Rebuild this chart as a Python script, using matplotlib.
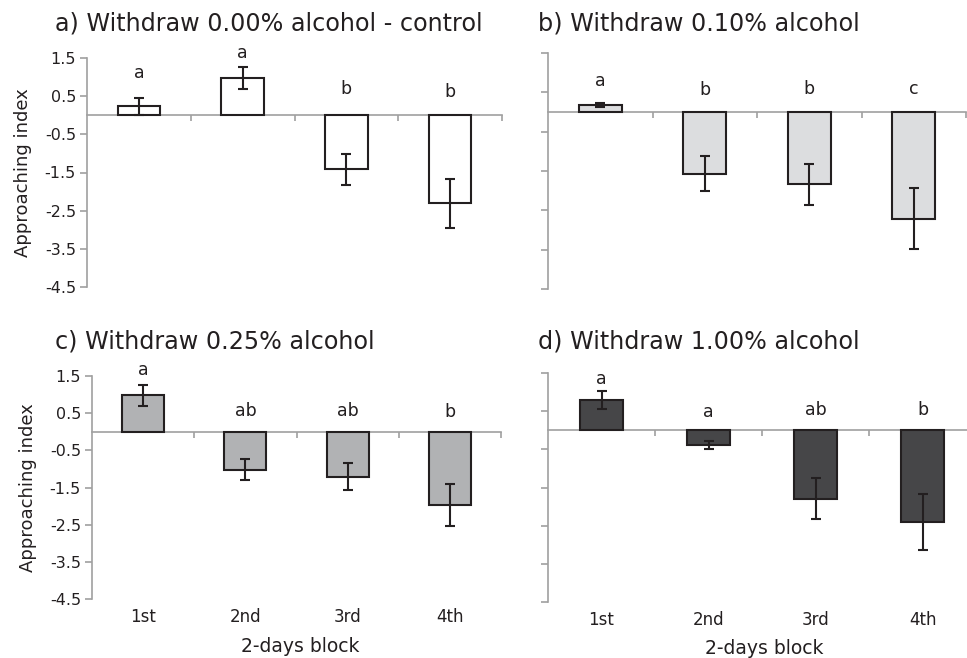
import matplotlib
matplotlib.use("Agg")
import matplotlib.pyplot as plt
import matplotlib.transforms as mtransforms

# the reference text is a bit wide, DejaVu Sans fits its extent best
plt.rcParams['font.family'] = ['DejaVu Sans']

blocks = ['1st', '2nd', '3rd', '4th']
titles = ['a) Withdraw 0.00% alcohol - control', 'b) Withdraw 0.10% alcohol',
          'c) Withdraw 0.25% alcohol', 'd) Withdraw 1.00% alcohol']

means_a = [0.23, 0.98, -1.42, -2.31]
err_a = [0.23, 0.28, 0.40, 0.65]
letters_a = ['a', 'a', 'b', 'b']
letter_y_a = [1.11, 1.62, 0.68, 0.62]

means_b = [0.18, -1.57, -1.84, -2.71]
err_b = [0.05, 0.45, 0.53, 0.78]
letters_b = ['a', 'b', 'b', 'c']
letter_y_b = [0.80, 0.57, 0.59, 0.59]

means_c = [0.98, -1.02, -1.21, -1.97]
err_c = [0.29, 0.29, 0.36, 0.57]
letters_c = ['a', 'ab', 'ab', 'b']
letter_y_c = [1.67, 0.57, 0.57, 0.53]

means_d = [0.80, -0.39, -1.79, -2.41]
err_d = [0.24, 0.11, 0.54, 0.73]
letters_d = ['a', 'a', 'ab', 'b']
letter_y_d = [1.34, 0.48, 0.54, 0.54]

colors = ['#ffffff', '#dcdddf', '#b1b2b4', '#464648']
yticks = [1.5, 0.5, -0.5, -1.5, -2.5, -3.5, -4.5]

W, H = 967, 658
# axes boxes in pixels: left, right, top, bottom
boxes = [(87, 502, 58, 287), (548, 966, 53, 289),
         (92, 501, 376, 599), (548, 976, 373, 602)]
title_pos = [(55, 24), (538, 23), (55, 342), (538, 342)]

fig = plt.figure(figsize=(W / 100, H / 100), dpi=100)

panels = [(means_a, err_a, letters_a, letter_y_a),
          (means_b, err_b, letters_b, letter_y_b),
          (means_c, err_c, letters_c, letter_y_c),
          (means_d, err_d, letters_d, letter_y_d)]

axis_col = '#a0a0a0'
edge_col = '#231f20'

for i, (m, e, let, ly) in enumerate(panels):
    l, r, t, b = boxes[i]
    ax = fig.add_axes([l / W, 1 - b / H, (r - l) / W, (b - t) / H])
    ax.patch.set_alpha(0)
    x = [k + 0.5 for k in range(len(blocks))]
    ax.bar(x, m, width=0.41, color=colors[i], edgecolor=edge_col, linewidth=1.5, zorder=2)
    ax.errorbar(x, m, yerr=e, fmt='none', ecolor=edge_col, elinewidth=1.5,
                capsize=3.8, capthick=1.5, zorder=3)
    for xx, s, yy in zip(x, let, ly):
        ax.text(xx, yy, s, ha='center', va='center', fontsize=12.5, color=edge_col)
    ax.set_xlim(0, 4)
    ax.set_ylim(-4.5, 1.5)
    for sp in ['top', 'right']:
        ax.spines[sp].set_visible(False)
    ax.spines['bottom'].set_position(('data', 0))
    for sp in ['bottom', 'left']:
        ax.spines[sp].set_color(axis_col)
        ax.spines[sp].set_linewidth(1.2)
    ax.spines['bottom'].set_zorder(1)
    ax.set_xticks([1, 2, 3, 4])
    ax.set_xticklabels([])
    ax.tick_params(axis='x', direction='out', length=4, width=1.2, color=axis_col)
    ax.set_yticks(yticks)
    ax.tick_params(axis='y', direction='out', length=5, width=1.2, color=axis_col,
                   labelsize=11.5, labelcolor=edge_col, pad=3)
    if i % 2 == 1:
        ax.set_yticklabels([])
    else:
        ax.set_yticklabels([str(v) for v in yticks])
        ax.set_ylabel('Approaching index', fontsize=13, color=edge_col, labelpad=9)
    if i >= 2:
        trans = mtransforms.blended_transform_factory(ax.transData, ax.transAxes)
        for xx, s in zip(x, blocks):
            ax.text(xx, -18 / (b - t), s, transform=trans, ha='center', va='center',
                    fontsize=12, color=edge_col)
        ax.text(0.51 if i == 2 else 0.505, -47 / (b - t), '2-days block', transform=ax.transAxes,
                ha='center', va='center', fontsize=13.5, color=edge_col)
    tx, ty = title_pos[i]
    fig.text(tx / W, 1 - ty / H, titles[i], ha='left', va='center', fontsize=17.2,
             color=edge_col)

fig.savefig('out.png', dpi=100)
